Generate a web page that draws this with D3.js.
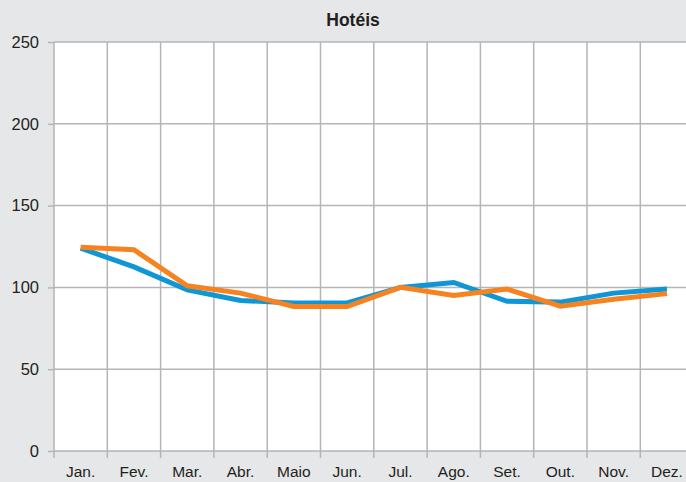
<!DOCTYPE html>
<html lang="pt">
<head>
    <meta charset="UTF-8">
    <script src="https://cdn.jsdelivr.net/npm/d3@7"></script>
    <title>Hotéis</title>
    <style>
        body {
            margin: 0;
            padding: 0;
            background: #e6e7e8;
            font-family: "Liberation Sans", Arial, sans-serif;
        }
        svg { display: block; }
    </style>
</head>
<body>
    <div id="chart"></div>
    <script>
        const months = ["Jan.", "Fev.", "Mar.", "Abr.", "Maio", "Jun.", "Jul.", "Ago.", "Set.", "Out.", "Nov.", "Dez."];
        const blueSeries = [124, 112.5, 98.5, 92, 90.5, 90.5, 100, 103, 91.5, 91, 96.5, 99];
        const orangeSeries = [124.5, 123, 101, 96.5, 88.3, 88.3, 100, 95, 99, 88.5, 92.8, 96.2];
        const yTicks = [0, 50, 100, 150, 200, 250];

        const width = 686, height = 482;
        const margin = { top: 42, left: 54, bottom: 31 };
        const bandW = 53.3;

        const svg = d3.select("#chart").append("svg")
            .attr("width", width)
            .attr("height", height);

        const x = d3.scaleBand()
            .domain(months)
            .range([margin.left, margin.left + bandW * months.length]);
        const y = d3.scaleLinear()
            .domain([0, 250])
            .range([height - margin.bottom, margin.top]);

        // white plot area
        svg.append("rect")
            .attr("x", margin.left)
            .attr("y", margin.top)
            .attr("width", width - margin.left)
            .attr("height", y(0) - margin.top)
            .attr("fill", "#ffffff");

        // horizontal grid + left ticks
        const yAxis = svg.append("g")
            .attr("transform", `translate(${margin.left},0)`)
            .call(d3.axisLeft(y).tickValues(yTicks).tickSize(6).tickPadding(9));
        yAxis.select(".domain").remove();
        yAxis.selectAll(".tick line").attr("stroke", "#b5b5b5").attr("stroke-width", 1.5);
        yAxis.selectAll(".tick text")
            .attr("font-size", 16.5)
            .attr("fill", "#231f20")
            .attr("font-family", "'Liberation Sans', Arial, sans-serif");

        svg.append("g").selectAll("line")
            .data(yTicks)
            .join("line")
            .attr("x1", margin.left)
            .attr("x2", width)
            .attr("y1", d => y(d))
            .attr("y2", d => y(d))
            .attr("stroke", "#b5b5b5")
            .attr("stroke-width", 1.5);

        // vertical grid on band edges, extended as ticks below the axis
        const edges = months.map(m => x(m));
        svg.append("g").selectAll("line")
            .data(edges)
            .join("line")
            .attr("x1", d => d)
            .attr("x2", d => d)
            .attr("y1", margin.top)
            .attr("y2", y(0) + 7)
            .attr("stroke", "#b5b5b5")
            .attr("stroke-width", 1.5);

        // x labels
        svg.append("g").selectAll("text")
            .data(months)
            .join("text")
            .attr("x", d => x(d) + x.bandwidth() / 2)
            .attr("y", 477)
            .attr("text-anchor", "middle")
            .attr("font-size", 15.5)
            .attr("fill", "#231f20")
            .text(d => d);

        // title
        svg.append("text")
            .attr("x", 353)
            .attr("y", 26)
            .attr("text-anchor", "middle")
            .attr("font-size", 17.5)
            .attr("font-weight", "bold")
            .attr("fill", "#231f20")
            .text("Hotéis");

        const line = d3.line()
            .x((d, i) => x(months[i]) + x.bandwidth() / 2)
            .y(d => y(d));

        svg.append("path")
            .datum(blueSeries)
            .attr("d", line)
            .attr("fill", "none")
            .attr("stroke", "#0f96d7")
            .attr("stroke-width", 5);

        svg.append("path")
            .datum(orangeSeries)
            .attr("d", line)
            .attr("fill", "none")
            .attr("stroke", "#f6831f")
            .attr("stroke-width", 5);
    </script>
</body>
</html>
